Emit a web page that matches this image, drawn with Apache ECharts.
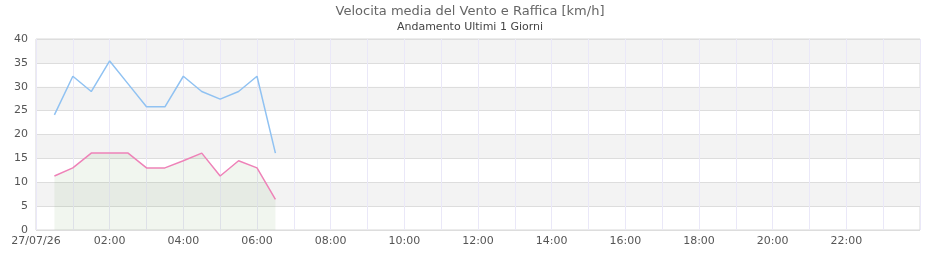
<!DOCTYPE html>
<html><head><meta charset="utf-8">
<script src="https://cdn.jsdelivr.net/npm/echarts@6/dist/echarts.min.js"></script>
<style>html,body{margin:0;padding:0;background:#fff}#c{width:940px;height:260px}</style>
</head><body><div id="c"></div>
<script>
const dateLabel = '27/07/26';
const times = ['00:30','01:00','01:30','02:00','02:30','03:00','03:30','04:00','04:30','05:00','05:30','06:00','06:30'];
const raffica = [24.1,32.2,29.0,35.4,30.6,25.8,25.8,32.2,29.0,27.4,29.0,32.2,16.1];
const media = [11.3,13.0,16.1,16.1,16.1,13.0,13.0,14.5,16.1,11.3,14.5,13.0,6.4];
const yTicks = [0,5,10,15,20,25,30,35,40];
const xTickHours = [0,2,4,6,8,10,12,14,16,18,20,22];

const toH = t => { const [h,m] = t.split(':').map(Number); return h + m/60; };
const pad = n => (n<10?'0':'')+n;
const chart = echarts.init(document.getElementById('c'), null, {renderer:'canvas'});
const font = 'DejaVu Sans';
chart.setOption({
  animation:false,
  title:{text:'Velocita media del Vento e Raffica [km/h]', subtext:'Andamento Ultimi 1 Giorni',
    left:'center', top:0, itemGap:4,
    textStyle:{fontFamily:font,fontSize:13,fontWeight:'normal',color:'#666'},
    subtextStyle:{fontFamily:font,fontSize:11,color:'#444'}},
  grid:{left:36,right:20,top:39,bottom:30,show:true,borderColor:'#d8d8d8',borderWidth:1,containLabel:false},
  xAxis:{type:'value',min:0,max:24,interval:2,
    axisLine:{show:false},axisTick:{show:false},
    axisLabel:{fontFamily:font,fontSize:11,color:'#555',margin:6,
      formatter:v=> v===0?dateLabel:(xTickHours.indexOf(v)>=0?pad(v)+':00':'')},
    splitLine:{show:true,lineStyle:{color:'#eae8f8',width:1}},
    minorTick:{show:false,splitNumber:2},
    minorSplitLine:{show:true,lineStyle:{color:'#eae8f8',width:1}}},
  yAxis:{type:'value',min:yTicks[0],max:yTicks[yTicks.length-1],interval:5,
    axisLine:{show:false},axisTick:{show:false},
    axisLabel:{fontFamily:font,fontSize:11,color:'#555',margin:8},
    splitLine:{show:true,lineStyle:{color:'#dddddd',width:1}},
    splitArea:{show:true,areaStyle:{color:['rgba(255,255,255,0)','#f3f3f3']}}},
  series:[
    {type:'line',name:'Media',data:times.map((t,i)=>[toH(t),media[i]]),showSymbol:false,
      lineStyle:{color:'#ee82b8',width:1.5},itemStyle:{color:'#ee82b8'},
      areaStyle:{color:'rgba(120,170,100,0.15)'},z:3},
    {type:'line',name:'Raffica',data:times.map((t,i)=>[toH(t),raffica[i]]),showSymbol:false,
      lineStyle:{color:'#90c2f2',width:1.5},itemStyle:{color:'#90c2f2'},z:4}
  ]
});
</script></body></html>
